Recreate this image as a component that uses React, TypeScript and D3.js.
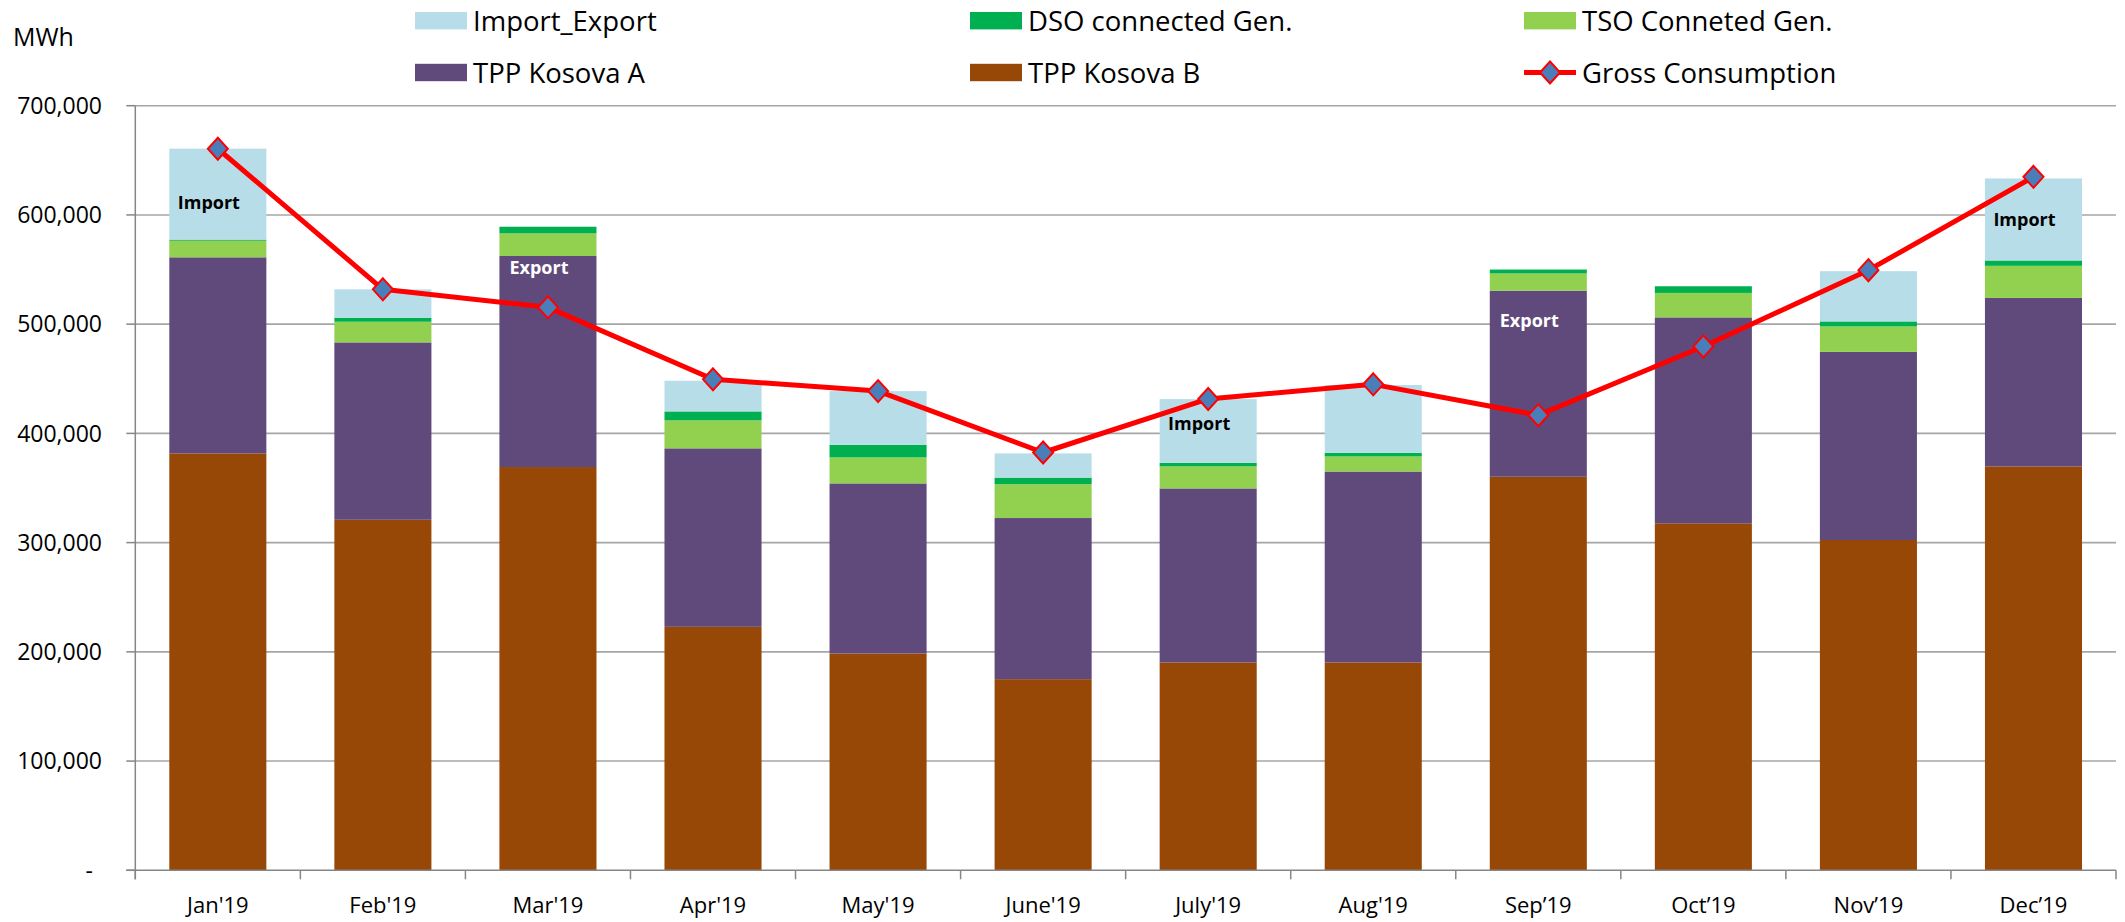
import React from "react";
import * as d3 from "d3";

// month labels (Sep..Dec use the curly apostrophe, as in the source)
const months = ["Jan'19", "Feb'19", "Mar'19", "Apr'19", "May'19", "June'19", "July'19", "Aug'19", "Sep’19", "Oct’19", "Nov’19", "Dec’19"];

// MWh per month
const kosovaB = [381700, 320900, 369200, 222900, 198500, 175000, 190300, 190300, 360300, 317700, 302400, 369800];
const kosovaA = [179500, 162400, 193200, 163400, 155700, 147500, 159300, 174800, 170400, 188500, 172200, 154200];
const tsoGen = [15200, 18900, 20700, 25600, 23800, 31000, 20200, 13800, 15700, 22400, 23300, 29400];
const dsoGen = [1000, 3700, 6100, 8200, 11600, 6000, 3200, 3300, 3600, 6100, 4600, 4900];
const importExport = [83300, 26000, -73800, 28100, 49100, 22200, 58400, 62100, -133300, -55100, 46000, 75100];
const grossConsumption = [660600, 531900, 515400, 449500, 438700, 382500, 431500, 444900, 416700, 479600, 549400, 634900];

const yTicks = [0, 100000, 200000, 300000, 400000, 500000, 600000, 700000];

// in-bar notes: month, text, value where the text baseline sits
const noteMonths = ["Jan'19", "Mar'19", "July'19", "Sep’19", "Dec’19"];
const noteTexts = ["Import", "Export", "Import", "Export", "Import"];
const noteValues = [605600, 545800, 403200, 497800, 589600];

const keys = ["kosovaB", "kosovaA", "tsoGen", "dsoGen", "importExport"];
const colors: Record<string, string> = {
  kosovaB: "#974706",
  kosovaA: "#604A7B",
  tsoGen: "#92D050",
  dsoGen: "#00B050",
  importExport: "#B7DEE8",
};

const legend = [
  { label: "Import_Export", key: "importExport", col: 0, row: 0 },
  { label: "DSO connected Gen.", key: "dsoGen", col: 1, row: 0 },
  { label: "TSO Conneted Gen.", key: "tsoGen", col: 2, row: 0 },
  { label: "TPP Kosova A", key: "kosovaA", col: 0, row: 1 },
  { label: "TPP Kosova B", key: "kosovaB", col: 1, row: 1 },
  { label: "Gross Consumption", key: "gross", col: 2, row: 1 },
];

const FONT = "'Open Sans', Calibri, sans-serif";
const diamond = "M0,-11L10,0L0,11L-10,0Z";

export default function App() {
  const width = 2125;
  const height = 922;
  const left = 135.3;
  const right = 2116;
  const top = 105.7;
  const bottom = 870.3;

  const x = d3.scaleBand<string>().domain(months).range([left, right]).paddingInner(0.412).paddingOuter(0.206);
  const y = d3.scaleLinear().domain([0, 700000]).range([bottom, top]);
  const step = x.step();
  const cx = (m: string) => (x(m) as number) + x.bandwidth() / 2;

  const rows = months.map((m, i) => ({
    month: m,
    kosovaB: kosovaB[i],
    kosovaA: kosovaA[i],
    tsoGen: tsoGen[i],
    dsoGen: dsoGen[i],
    importExport: importExport[i],
  }));
  const series = d3.stack<any>().keys(keys).offset(d3.stackOffsetDiverging)(rows);

  const line = d3
    .line<number>()
    .x((_, i) => cx(months[i]))
    .y((d) => y(d));

  const legendX = [415, 970, 1524];
  const legendY = [20.7, 72.5];

  return (
    <div style={{ position: "absolute", left: 0, top: 0, background: "#fff" }}>
      <svg width={width} height={height} style={{ display: "block", fontFamily: FONT }}>
        <defs>
          <clipPath id="plot">
            <rect x={left} y={0} width={right - left} height={bottom} />
          </clipPath>
        </defs>
        <rect width={width} height={height} fill="#fff" />

        {/* gridlines */}
        {yTicks.slice(1).map((t) => (
          <line key={t} x1={left} x2={right} y1={y(t)} y2={y(t)} stroke="#A6A6A6" strokeWidth={1.6} />
        ))}

        {/* stacked bars */}
        <g clipPath="url(#plot)">
          {series.map((s) =>
            s.map((d: any, i: number) => {
              const y0 = y(d[0]);
              const y1 = y(d[1]);
              return (
                <rect
                  key={s.key + i}
                  x={x(months[i])}
                  width={x.bandwidth()}
                  y={Math.min(y0, y1)}
                  height={Math.abs(y0 - y1)}
                  fill={colors[s.key]}
                />
              );
            })
          )}
        </g>

        {/* notes */}
        {noteMonths.map((m, i) => (
          <text
            key={m}
            x={cx(m) - 9}
            y={y(noteValues[i])}
            textAnchor="middle"
            fontSize={18}
            fontWeight="bold"
            fill={noteTexts[i] === "Export" ? "#fff" : "#000"}
          >
            {noteTexts[i]}
          </text>
        ))}

        {/* axes */}
        <line x1={left} x2={left} y1={top} y2={bottom + 9} stroke="#868686" strokeWidth={1.5} />
        <line x1={left - 9} x2={right} y1={bottom} y2={bottom} stroke="#868686" strokeWidth={1.5} />
        {yTicks.map((t) => (
          <g key={t}>
            <line x1={left - 9} x2={left} y1={y(t)} y2={y(t)} stroke="#868686" strokeWidth={1.5} />
            <text x={t === 0 ? 93 : 102} y={y(t)} dy="0.36em" textAnchor="end" fontSize={23} fill="#000">
              {t === 0 ? "-" : d3.format(",")(t)}
            </text>
          </g>
        ))}
        {d3.range(months.length + 1).map((k) => (
          <line key={k} x1={left + k * step} x2={left + k * step} y1={bottom} y2={bottom + 9} stroke="#868686" strokeWidth={1.5} />
        ))}
        {months.map((m) => (
          <text key={m} x={cx(m)} y={913} textAnchor="middle" fontSize={22} fill="#000">
            {m}
          </text>
        ))}

        {/* gross consumption */}
        <path d={line(grossConsumption) || ""} fill="none" stroke="#FF0000" strokeWidth={5} strokeLinejoin="round" />
        {grossConsumption.map((v, i) => (
          <path
            key={i}
            d={diamond}
            transform={`translate(${cx(months[i])},${y(v)})`}
            fill="#4A7EBB"
            stroke="#FF0000"
            strokeWidth={2}
          />
        ))}

        <text x={13} y={46} fontSize={25} fill="#000">
          MWh
        </text>

        {/* legend */}
        {legend.map((l) => {
          const lx = legendX[l.col];
          const ly = legendY[l.row];
          return (
            <g key={l.label}>
              {l.key === "gross" ? (
                <g>
                  <line x1={lx} x2={lx + 52} y1={ly} y2={ly} stroke="#FF0000" strokeWidth={5} />
                  <path d={diamond} transform={`translate(${lx + 26},${ly})`} fill="#4A7EBB" stroke="#FF0000" strokeWidth={2} />
                </g>
              ) : (
                <rect x={lx} y={ly - 8.7} width={52} height={17.4} fill={colors[l.key]} />
              )}
              <text x={lx + 58} y={ly + 10} fontSize={27.5} fill="#000">
                {l.label}
              </text>
            </g>
          );
        })}
      </svg>
    </div>
  );
}
